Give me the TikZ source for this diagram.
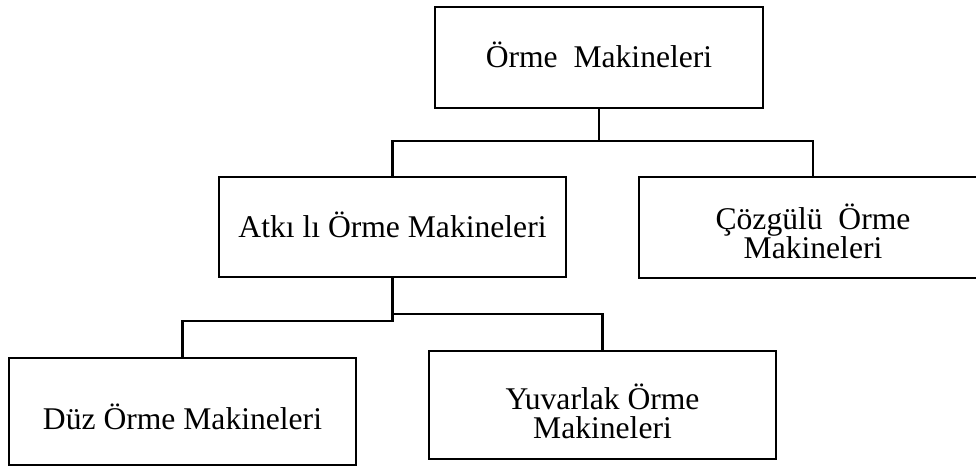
\documentclass[tikz,border=0pt]{standalone}
\usepackage{fontspec}
\setmainfont{Liberation Serif}
\begin{document}
\begin{tikzpicture}[x=1pt,y=1pt,
  box/.style={draw, line width=2.3pt, rectangle, align=center, inner sep=0pt,
    font=\fontsize{31.6}{29}\selectfont},
  conn/.style={draw, line width=2.3pt}]
\useasboundingbox (0,0) rectangle (976,-466);
\node[box, minimum width=328, minimum height=101, text height=20pt, text depth=0pt] (top) at (599,-57.5) {Örme\hspace{0.5em}Makineleri};
\node[box, minimum width=347, minimum height=100, text height=20pt, text depth=0pt] (b2) at (392.5,-227) {Atkı lı Örme Makineleri};
\node[box, minimum width=348, minimum height=101] (b3) at (813,-227.5) {\rule{0pt}{34pt}Çözgülü\hspace{0.5em}Örme\\Makineleri};
\node[box, minimum width=347, minimum height=107, text height=35pt, text depth=0pt] (b4) at (182.5,-411.5) {Düz Örme Makineleri};
\node[box, minimum width=347, minimum height=108] (b5) at (602.5,-405) {\rule{0pt}{39pt}Yuvarlak Örme\\Makineleri};
\draw[conn] (top.south) -- (top.south |- 0,-141) coordinate (hub1);
\draw[conn] (b2.north) |- (hub1) -| (b3.north);
\draw[conn] (b2.south) -- (b2.south |- 0,-321) coordinate (hub2) -| (b4.north);
\draw[conn] (b2.south |- 0,-314) coordinate (hub3) -| (b5.north);
\end{tikzpicture}
\end{document}
